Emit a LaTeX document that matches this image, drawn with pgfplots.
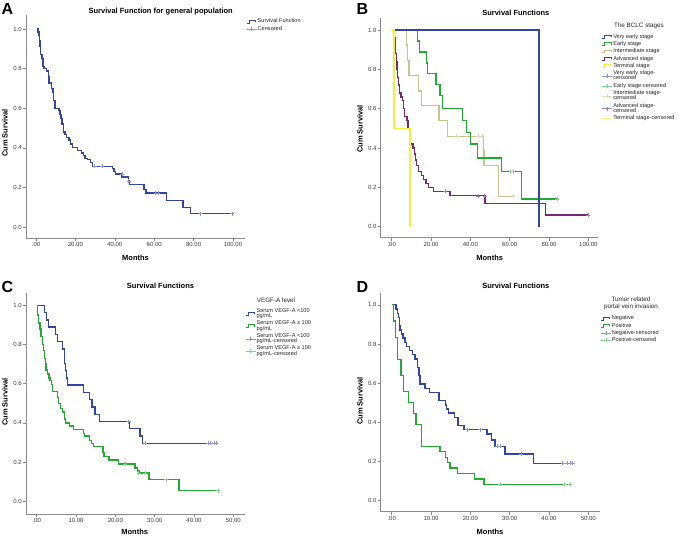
\documentclass[border=0pt]{standalone}
\usepackage{fontspec}
\setmainfont{Liberation Sans}
\usepackage{pgfplots}
\pgfplotsset{compat=1.18}
\definecolor{axgray}{HTML}{8C8C8C}
\definecolor{tkgray}{HTML}{3C3C3C}
\definecolor{kmblue}{HTML}{3346A6}
\definecolor{kmbluec}{HTML}{8A97D4}
\definecolor{kmgreen}{HTML}{22AA33}
\definecolor{kmgreenc}{HTML}{80D68C}
\definecolor{kmtan}{HTML}{C8C48E}
\definecolor{kmtanc}{HTML}{DCD9BC}
\definecolor{kmpurple}{HTML}{76297A}
\definecolor{kmpurplec}{HTML}{A77BAA}
\definecolor{kmyellow}{HTML}{F3F03C}
\definecolor{kmyellowc}{HTML}{F5F38A}
\newcommand{\tickfont}{\fontsize{6}{6.5}\selectfont}
\newcommand{\legfont}{\fontsize{5.6}{5.4}\selectfont}
\newcommand{\labfont}{\fontsize{7.5}{9}\selectfont\bfseries}
\newcommand{\steplegend}[1]{\addlegendimage{legend image code/.code={\draw[#1, line width=1pt] (0pt,-1.4pt)--(2.5pt,-1.4pt)--(2.5pt,1.4pt)--(9pt,1.4pt)--(9pt,-0.4pt);}}}
\newcommand{\censlegend}[1]{\addlegendimage{legend image code/.code={\draw[#1, line width=0.6pt] (0pt,0pt)--(10pt,0pt) (5pt,-2pt)--(5pt,2pt);}}}
\pgfplotsset{
  km/.style={
    scale only axis, anchor=south west, clip=false,
    axis lines=left, axis line style={-, draw=axgray, line width=0.6pt},
    tick align=outside, major tick length=3pt,
    tick style={draw=axgray, line width=0.5pt},
    tick label style={font=\tickfont, text=tkgray},
    ytick={0,0.2,0.4,0.6,0.8,1.0},
    yticklabels={0.0,0.2,0.4,0.6,0.8,1.0},
    yticklabel style={inner sep=1pt},
    xticklabel style={inner sep=1.5pt},
    legend cell align=left,
    legend style={draw=none, fill=none, inner sep=0pt, font=\legfont, text=black!85,
      nodes={align=left, inner sep=0.6pt}, row sep=0.5pt,
      /tikz/every even column/.append style={column sep=0.5pt}},
  },
  kmline/.style={const plot, line width=1.35pt, forget plot},
  cens/.style={only marks, mark=+, mark size=2pt, line width=0.6pt, forget plot},
}
\begin{document}
\begin{tikzpicture}
\path (0,0) rectangle (680pt,-538pt);
% ---------------- Panel A
\begin{axis}[km, at={(26pt,-238pt)}, width=219pt, height=223pt,
  xmin=-5.08, xmax=106.1, ymin=-0.0556, ymax=1.0707,
  xtick={0,20,40,60,80,100}, xticklabels={.00,20.00,40.00,60.00,80.00,100.00},
  legend style={at={(rel axis cs:1.005,0.986)}, anchor=north west}]
\addplot[kmline, kmblue] coordinates {(0.5,1.0)(1.0,0.985)(1.5,0.97)(1.9,0.94)(2.1,0.91)(2.4,0.87)(3.0,0.85)(3.6,0.81)(4.1,0.80)(5.2,0.787)(6.2,0.76)(6.6,0.727)(8.0,0.70)(8.6,0.68)(9.0,0.64)(9.6,0.60)(11.6,0.587)(12.2,0.567)(12.7,0.547)(13.2,0.52)(14.0,0.48)(14.8,0.467)(15.5,0.453)(16.8,0.44)(17.5,0.42)(18.5,0.40)(21.0,0.387)(23.0,0.373)(24.0,0.36)(24.8,0.347)(26.0,0.34)(27.7,0.327)(28.7,0.307)(38.7,0.294)(39.6,0.28)(40.5,0.267)(43.6,0.253)(46.8,0.233)(47.6,0.214)(54.9,0.19)(55.9,0.172)(66.2,0.134)(74.7,0.10)(78.4,0.067)(99.5,0.067)};
\addplot[cens, kmbluec] coordinates {(29.8,0.307)(33.5,0.307)(43.9,0.267)(47.0,0.233)(60.7,0.172)(62.0,0.172)(83.6,0.067)(99.5,0.067)};
\steplegend{kmblue}\addlegendentry{Survival Function}
\censlegend{kmbluec}\addlegendentry{Censored}
\end{axis}
% ---------------- Panel B
\begin{axis}[km, at={(380.7pt,-237.7pt)}, width=217.3pt, height=219.7pt,
  xmin=-5.6, xmax=104.9, ymin=-0.0559, ymax=1.061,
  xtick={0,20,40,60,80,100}, xticklabels={.00,20.00,40.00,60.00,80.00,100.00},
  legend style={at={(rel axis cs:1.017,0.93)}, anchor=north west}]
\addplot[kmline, kmtan] coordinates {(0,1)(7.6,0.923)(8.0,0.846)(8.8,0.77)(13.6,0.69)(15.3,0.615)(24.0,0.54)(28.3,0.46)(46.6,0.385)(47.0,0.31)(54.2,0.154)(61.9,0.154)};
\addplot[kmline, kmgreen] coordinates {(0,1)(13.2,0.944)(14.0,0.889)(17.8,0.833)(18.3,0.778)(22.5,0.722)(24.6,0.667)(25.8,0.60)(36.1,0.54)(38.1,0.48)(40.2,0.42)(43.6,0.35)(55.9,0.28)(66.1,0.14)(84.0,0.14)};
\addplot[kmline, kmblue] coordinates {(0,1)(74.9,0)};
\addplot[kmline, kmpurple] coordinates {(0,1)(0.8,0.98)(1.2,0.96)(1.6,0.92)(2.0,0.88)(2.3,0.84)(2.6,0.80)(3.0,0.76)(3.4,0.72)(3.9,0.68)(4.8,0.66)(5.4,0.64)(5.9,0.60)(6.5,0.56)(7.8,0.54)(8.3,0.50)(9.0,0.46)(9.7,0.42)(10.9,0.40)(11.5,0.37)(12.1,0.34)(12.7,0.31)(13.6,0.28)(15.3,0.26)(16.1,0.24)(17.5,0.22)(18.6,0.20)(21.2,0.18)(29.7,0.157)(47.5,0.118)(78.3,0.059)(100,0.059)};
\addplot[kmline, kmyellow] coordinates {(0,1)(1.2,0.5)(9.3,0)};
\addplot[cens, kmgreenc] coordinates {(60.5,0.28)(61.8,0.28)(84,0.14)};
\addplot[cens, kmtanc] coordinates {(33.0,0.46)(43.9,0.46)(46.0,0.46)(61.9,0.154)};
\addplot[cens, kmpurplec] coordinates {(27.3,0.18)(44.0,0.157)(47.2,0.157)(100,0.059)};
\steplegend{kmblue}\addlegendentry{Very early stage}
\steplegend{kmgreen}\addlegendentry{Early stage}
\steplegend{kmtan}\addlegendentry{Intermediate stage}
\steplegend{kmpurple}\addlegendentry{Advanced stage}
\steplegend{kmyellow}\addlegendentry{Terminal stage}
\censlegend{kmbluec}\addlegendentry{Very early stage-\\censored}
\censlegend{kmgreenc}\addlegendentry{Early stage-censored}
\censlegend{kmtanc}\addlegendentry{Intermediate stage-\\censored}
\censlegend{kmpurplec}\addlegendentry{Advanced stage-\\censored}
\censlegend{kmyellowc}\addlegendentry{Terminal stage-censored}
\end{axis}
% ---------------- Panel C
\begin{axis}[km, at={(26pt,-514pt)}, width=219pt, height=221pt,
  xmin=-2.72, xmax=52.97, ymin=-0.065, ymax=1.063,
  xtick={0,10,20,30,40,50}, xticklabels={.00,10.00,20.00,30.00,40.00,50.00},
  legend style={at={(rel axis cs:1.0,0.934)}, anchor=north west}]
\addplot[kmline, kmblue] coordinates {(0,1)(1.95,0.963)(2.5,0.926)(3.0,0.889)(4.7,0.852)(5.3,0.815)(6.5,0.778)(7.0,0.741)(7.1,0.704)(7.3,0.667)(7.5,0.63)(7.9,0.593)(11.9,0.556)(13.4,0.519)(14.1,0.481)(14.8,0.444)(15.9,0.407)(23.6,0.37)(26.3,0.333)(26.9,0.296)(45.6,0.296)};
\addplot[kmline, kmgreen] coordinates {(0,1)(0.2,0.95)(0.5,0.91)(0.8,0.88)(1.1,0.84)(1.4,0.80)(1.7,0.77)(2.0,0.73)(2.2,0.70)(2.4,0.67)(2.8,0.65)(3.1,0.63)(3.4,0.615)(3.8,0.595)(4.1,0.56)(5.3,0.53)(5.6,0.50)(6.0,0.475)(6.6,0.455)(7.0,0.42)(7.3,0.40)(8.4,0.385)(9.4,0.366)(11.9,0.346)(12.1,0.333)(13.4,0.31)(13.9,0.295)(14.4,0.28)(16.9,0.25)(17.1,0.23)(18.4,0.21)(20.8,0.19)(25.0,0.17)(25.6,0.155)(26.1,0.145)(28.6,0.11)(36.2,0.054)(46.2,0.054)};
\addplot[cens, kmbluec] coordinates {(23.4,0.407)(27.5,0.296)(43.6,0.296)(44.2,0.296)(45.1,0.296)(45.6,0.296)};
\addplot[cens, kmgreenc] coordinates {(22.5,0.19)(25.9,0.145)(27.5,0.145)(32.9,0.11)(46.2,0.054)};
\steplegend{kmblue}\addlegendentry{Serum VEGF-A <100\\pg/mL}
\steplegend{kmgreen}\addlegendentry{Serum VEGF-A ≥ 100\\pg/mL}
\censlegend{kmbluec}\addlegendentry{Serum VEGF-A <100\\pg/mL-censored}
\censlegend{kmgreenc}\addlegendentry{Serum VEGF-A ≥ 100\\pg/mL-censored}
\end{axis}
% ---------------- Panel D
\begin{axis}[km, at={(380.7pt,-511.5pt)}, width=219.3pt, height=218.5pt,
  xmin=-2.8, xmax=52.97, ymin=-0.055, ymax=1.06,
  xtick={0,10,20,30,40,50}, xticklabels={.00,10.00,20.00,30.00,40.00,50.00},
  legend style={at={(rel axis cs:1.001,0.899)}, anchor=north west}]
\addplot[kmline, kmblue] coordinates {(0,1)(1.1,0.979)(1.4,0.957)(1.7,0.936)(1.95,0.894)(2.1,0.872)(2.5,0.851)(2.9,0.830)(3.4,0.809)(3.8,0.787)(4.5,0.766)(5.3,0.745)(5.9,0.723)(6.5,0.681)(6.9,0.638)(7.2,0.596)(8.5,0.574)(9.6,0.553)(12.0,0.511)(13.6,0.489)(14.0,0.468)(14.4,0.447)(15.9,0.426)(16.9,0.383)(18.4,0.362)(24.2,0.340)(25.3,0.309)(26.3,0.277)(28.8,0.238)(36.0,0.19)(46.2,0.19)};
\addplot[kmline, kmgreen] coordinates {(0,1)(0.4,0.917)(1.0,0.833)(1.5,0.722)(2.4,0.639)(3.0,0.556)(4.2,0.50)(5.5,0.444)(6.2,0.389)(7.6,0.278)(12.3,0.25)(13.6,0.222)(14.2,0.194)(14.8,0.167)(16.7,0.139)(21.0,0.111)(23.5,0.083)(45.3,0.083)};
\addplot[cens, kmbluec] coordinates {(19.1,0.362)(22.5,0.362)(26.8,0.277)(27.5,0.277)(33.0,0.238)(43.5,0.19)(44.6,0.19)(45.4,0.19)(46.0,0.19)};
\addplot[cens, kmgreenc] coordinates {(27.5,0.083)(44.0,0.083)(45.3,0.083)};
\steplegend{kmblue}\addlegendentry{Negative}
\steplegend{kmgreen}\addlegendentry{Positive}
\censlegend{kmbluec}\addlegendentry{Negative-censored}
\censlegend{kmgreenc}\addlegendentry{Positive-censored}
\end{axis}
% ---------------- texts
\begin{scope}[every node/.style={inner sep=0pt}]
\node[font=\fontsize{16}{16}\selectfont\bfseries, anchor=west] at (1.5pt,-9pt) {A};
\node[font=\fontsize{16}{16}\selectfont\bfseries, anchor=west] at (356.5pt,-9pt) {B};
\node[font=\fontsize{16}{16}\selectfont\bfseries, anchor=west] at (1.5pt,-286.5pt) {C};
\node[font=\fontsize{16}{16}\selectfont\bfseries, anchor=west] at (356.5pt,-286.5pt) {D};
\node[font=\labfont] at (160.7pt,-11.7pt) {Survival Function for general population};
\node[font=\labfont] at (515.8pt,-12.7pt) {Survival Functions};
\node[font=\labfont] at (160.5pt,-286.3pt) {Survival Functions};
\node[font=\labfont] at (515.8pt,-286.3pt) {Survival Functions};
\node[font=\labfont, rotate=90] at (5pt,-133pt) {Cum Survival};
\node[font=\labfont, rotate=90] at (360pt,-129pt) {Cum Survival};
\node[font=\labfont, rotate=90] at (5pt,-402pt) {Cum Survival};
\node[font=\labfont, rotate=90] at (360pt,-401pt) {Cum Survival};
\node[font=\labfont] at (135.5pt,-258.3pt) {Months};
\node[font=\labfont] at (489.7pt,-257.7pt) {Months};
\node[font=\labfont] at (134.7pt,-532.3pt) {Months};
\node[font=\labfont] at (490pt,-532.3pt) {Months};
\node[font=\fontsize{6.3}{7}\selectfont, text=black!85] at (639pt,-25.7pt) {The BCLC stages};
\node[font=\fontsize{6.3}{7}\selectfont, text=black!85] at (276pt,-300pt) {VEGF-A level};
\node[font=\fontsize{6.3}{7}\selectfont, text=black!85, align=center] at (631pt,-303.8pt) {Tumor related\\portal vein invasion};
\end{scope}
\end{tikzpicture}
\end{document}
